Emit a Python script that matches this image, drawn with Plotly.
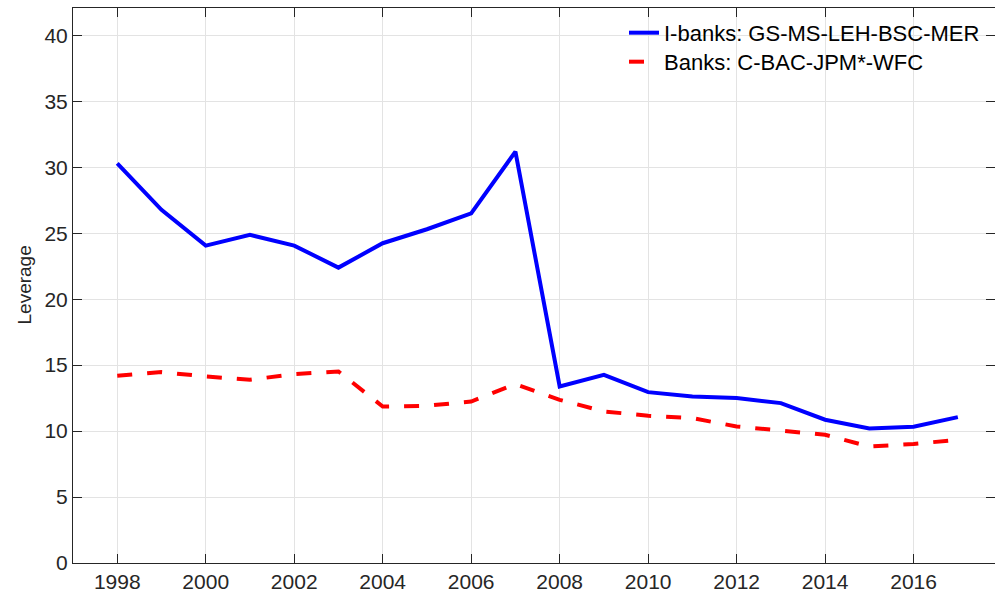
import plotly.graph_objects as go

years = list(range(1998, 2018))
ibanks = [30.3, 26.77, 24.06, 24.87, 24.06, 22.39, 24.24, 25.3, 26.5, 31.18,
          13.38, 14.26, 12.95, 12.62, 12.5, 12.12, 10.86, 10.2, 10.33, 11.06]
banks = [14.19, 14.47, 14.14, 13.89, 14.32, 14.52, 11.86, 11.92, 12.24, 13.56,
         12.37, 11.49, 11.16, 10.98, 10.35, 10.05, 9.72, 8.83, 9.02, 9.34]
xticks = list(range(1998, 2018, 2))
yticks = list(range(0, 45, 5))

FONT = "Liberation Sans, Arial, Helvetica, sans-serif"
AX = "#262626"

fig = go.Figure()
fig.add_trace(go.Scatter(x=years, y=ibanks, mode="lines",
                         name="I-banks: GS-MS-LEH-BSC-MER",
                         line=dict(color="#0000ff", width=4), legend="legend"))
fig.add_trace(go.Scatter(x=years, y=banks, mode="lines",
                         name="Banks: C-BAC-JPM*-WFC",
                         line=dict(color="#ff0000", width=4, dash="15px,15px"),
                         legend="legend2"))

axis_common = dict(
    showline=True, linecolor=AX, linewidth=1, mirror="allticks",
    ticks="inside", ticklen=9, tickwidth=1, tickcolor=AX,
    showgrid=True, gridcolor="#e3e3e3", gridwidth=1,
    zeroline=False, automargin=False,
    tickfont=dict(family=FONT, size=21, color=AX),
)

fig.update_xaxes(range=[1997, 2017.84], tickvals=xticks, **axis_common)
fig.update_yaxes(range=[0, 42.07], tickvals=yticks, **axis_common)

fig.add_annotation(text="Leverage", xref="paper", yref="paper",
                   x=-(73 - 24) / 922, y=0.5, xanchor="center", yanchor="middle",
                   textangle=-90, showarrow=False,
                   font=dict(family=FONT, size=19, color=AX))

legend_style = dict(xanchor="left", yanchor="top",
                    bgcolor="rgba(255,255,255,0)", borderwidth=0,
                    font=dict(family=FONT, size=22, color="#000000"))

fig.update_layout(
    width=995, height=594,
    margin=dict(l=73, r=0, t=8, b=31, pad=0),
    plot_bgcolor="white", paper_bgcolor="white",
    font=dict(family=FONT, size=20, color=AX),
    legend=dict(x=0.5976, y=0.993, **legend_style),
    legend2=dict(x=0.5976, y=0.993 - 29 / 555, **legend_style),
    showlegend=True,
)

fig.write_html("out.html", config={"displayModeBar": False},
               post_script="document.body.style.margin='0';document.body.style.overflow='hidden';")
